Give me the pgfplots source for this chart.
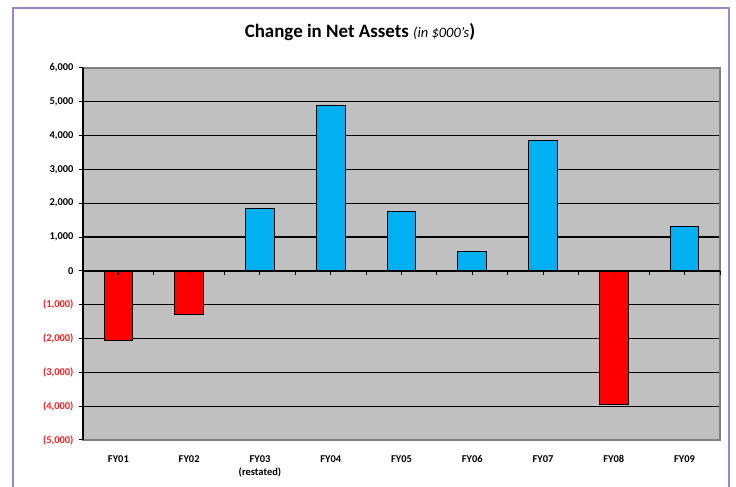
\documentclass[border=0pt]{standalone}
\usepackage{fontspec}
\setmainfont{Carlito}
\usepackage{pgfplots}
\pgfplotsset{compat=1.18}
\definecolor{barblue}{RGB}{0,176,240}
\definecolor{barred}{RGB}{255,0,0}
\definecolor{plotgray}{RGB}{192,192,192}
\definecolor{framepurple}{RGB}{155,135,195}
\definecolor{bordergray}{RGB}{128,128,128}
\definecolor{labred}{RGB}{255,30,30}
\begin{document}
\begin{tikzpicture}[x=1bp,y=1bp]
\useasboundingbox (0,0) rectangle (736,487);
\fill[white] (0,0) rectangle (736,487);
\draw[framepurple, line width=1.2bp] (13,-2) -- (13,479) -- (729,479) -- (729,-2);
\node[font=\bfseries\fontsize{19}{22}\selectfont] at (360,455)
  {Change in Net Assets {\mdseries\itshape\fontsize{14.5}{17}\selectfont (in \$000's})};
\begin{axis}[
  at={(83bp,47bp)}, anchor=south west,
  scale only axis, width=637bp, height=372bp,
  xmin=-0.5, xmax=8.5, ymin=-5000, ymax=6000,
  axis background/.style={fill=plotgray},
  axis line style={bordergray, line width=1.5bp},
  xtick={0,...,8},
  xticklabels={FY01,FY02,{FY03\\(restated)},FY04,FY05,FY06,FY07,FY08,FY09},
  xticklabel style={align=center, font=\bfseries\fontsize{10.5}{12.5}\selectfont, yshift=-8bp},
  xtick style={draw=none},
  ytick={-4000,-3000,...,5000},
  yticklabels={},
  ytick style={draw=none},
  ymajorgrids, grid style={black, line width=1.3bp},
  ybar, bar width=0.405, bar shift=0pt,
]
\addplot[fill=barblue, draw=black, line width=1bp] coordinates
  {(2,1850) (3,4880) (4,1745) (5,580) (6,3865) (8,1300)};
\addplot[fill=barred, draw=black, line width=1bp] coordinates
  {(0,-2060) (1,-1275) (7,-3940)};
\end{axis}
\begin{axis}[
  at={(83bp,47bp)}, anchor=south west,
  scale only axis, width=637bp, height=372bp,
  xmin=-0.5, xmax=8.5, ymin=-5000, ymax=6000,
  axis x line=middle, axis y line=left,
  axis line style={-, black, line width=1.5bp},
  xtick=\empty,
  ytick={-5000,-4000,...,6000},
  yticklabels={\textcolor{labred}{(5,000)},\textcolor{labred}{(4,000)},\textcolor{labred}{(3,000)},\textcolor{labred}{(2,000)},\textcolor{labred}{(1,000)},0,{1,000},{2,000},{3,000},{4,000},{5,000},{6,000}},
  yticklabel style={font=\bfseries\fontsize{10.5}{12.5}\selectfont, xshift=-2bp},
  ytick style={black, line width=1bp},
  tick align=outside, major tick length=4bp,
  clip=false,
]
\pgfplotsinvokeforeach{0,0.5,1,1.5,2,2.5,3,3.5,4,4.5,5,5.5,6,6.5,7,7.5,8,8.5}{
  \draw[black, line width=1bp] (axis cs:#1,0) -- (axis cs:#1,-120);
}
\end{axis}
\end{tikzpicture}
\end{document}
